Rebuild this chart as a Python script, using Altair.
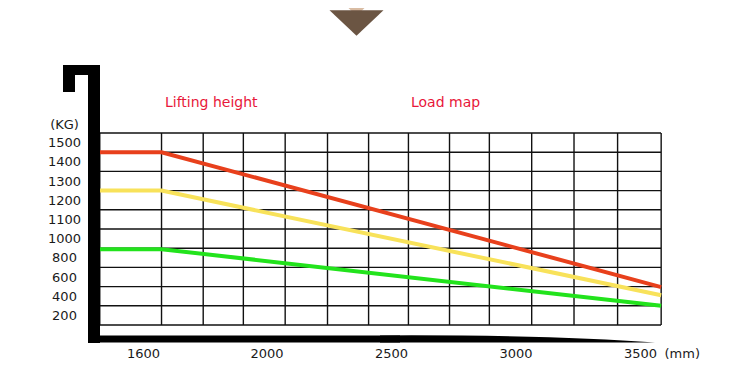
import altair as alt
import pandas as pd

# ---------------- data ----------------
lift_mm = [1460, 1660, 3585]                # start, knee, end of each curve (mm)
series_names = ["Red", "Yellow", "Green"]
load_red = [1450, 1450, 495]                # kg
load_yellow = [1250, 1250, 410]
load_green = [890, 890, 300]
series_colors = ["#e8401c", "#f8e25a", "#22e31c"]

x_tick_values = [1600, 2000, 2500, 3000, 3500]
y_tick_values = [200, 400, 600, 800, 1000, 1100, 1200, 1300, 1400, 1500]
x_grid_mm = [1460, 1660, 1795, 1925, 2075, 2245, 2410, 2570, 2735, 2895, 3065, 3235, 3410, 3585]
y_grid_kg = [100, 300, 500, 700, 900, 1050, 1150, 1250, 1350, 1450, 1550]

title_left = "Lifting height"
title_right = "Load map"
y_unit = "(KG)"
x_unit = "(mm)"

# ---------------- build tables ----------------
rows = []
for name, vals in zip(series_names, [load_red, load_yellow, load_green]):
    for mm, kg in zip(lift_mm, vals):
        rows.append({"series": name, "mm": mm, "kg": kg})
df = pd.DataFrame(rows)

W, H = 561, 192
FONT = "DejaVu Sans"
TXT = "#1a1a1a"

x_scale = alt.Scale(domain=[1600, 2000, 3500], range=[43, 166.5, 540], nice=False, zero=False)
y_scale = alt.Scale(domain=[100, 1000, 1550], range=[H, 105.6, 0], nice=False, zero=False)

x_axis = alt.Axis(
    values=x_tick_values, format="d", grid=False, domain=False, ticks=False, tickSize=0,
    labelPadding=28, labelBaseline="middle", labelFont=FONT, labelFontSize=13,
    labelColor=TXT, labelFlush=False, labelOverlap=False, labelBound=False,
    title=x_unit, titleX=564, titleY=28, titleAlign="left", titleBaseline="middle",
    titleFont=FONT, titleFontSize=13, titleFontWeight="normal", titleColor=TXT,
)
y_axis = alt.Axis(
    values=y_tick_values, format="d", grid=False, domain=False, ticks=False, tickSize=0,
    labelPadding=36, labelAlign="center", labelBaseline="middle", labelFont=FONT,
    labelFontSize=13, labelColor=TXT, labelOverlap=False, labelBound=False,
    title=y_unit, titleAngle=0, titleX=-36, titleY=-9, titleAlign="center",
    titleBaseline="middle", titleFont=FONT, titleFontSize=13, titleFontWeight="normal",
    titleColor=TXT,
)

vgrid = alt.Chart(pd.DataFrame({"gx": x_grid_mm})).mark_rule(color="#111111", strokeWidth=1.4).encode(
    x=alt.X("gx:Q", scale=x_scale, axis=x_axis)
)
hgrid = alt.Chart(pd.DataFrame({"gy": y_grid_kg})).mark_rule(color="#111111", strokeWidth=1.4).encode(
    y=alt.Y("gy:Q", scale=y_scale, axis=y_axis)
)

lines = alt.Chart(df).mark_line(strokeWidth=4).encode(
    x=alt.X("mm:Q", scale=x_scale, axis=x_axis),
    y=alt.Y("kg:Q", scale=y_scale, axis=y_axis),
    color=alt.Color("series:N", scale=alt.Scale(domain=series_names, range=series_colors), legend=None),
)

one = alt.Data(values=[{"k": 1}])


def block(x1, x2, y1, y2, color="#000000"):
    return alt.Chart(one).mark_rect(color=color).encode(
        x=alt.value(x1), x2=alt.value(x2), y=alt.value(y1), y2=alt.value(y2)
    )


def shape(path, cx, cy, size, color):
    return alt.Chart(one).mark_point(
        shape=path, filled=True, size=size, color=color, opacity=1, strokeWidth=0
    ).encode(x=alt.value(cx), y=alt.value(cy))


def label(text, x, y, color, size=14):
    return alt.Chart(one).mark_text(
        text=text, align="left", baseline="middle", font=FONT, fontSize=size, color=color
    ).encode(x=alt.value(x), y=alt.value(y))


decor = [
    block(-12, 0, -68, 210),          # vertical thick bar
    block(-37, 0, -68, -58),          # hook top
    block(-37, -25, -68, -41),        # hook leg
    block(-12, 300, 202.5, 209.5),    # bottom thick bar
    shape("M -1 -0.026 Q 0.25 -0.032 1 0.026 L -1 0.026 Z", 417.5, 206, 275 * 275, "#000000"),
    shape("M -1 -0.5 L 1 -0.5 L 0 0.5 Z", 256.5, -123, 24 * 24, "#d9bca3"),
    shape("M -1 -0.47 L 1 -0.47 L 0 0.47 Z", 256.5, -110, 54 * 54, "#6b5543"),
    label(title_left, 65, -30, "#e8173a"),
    label(title_right, 311, -30, "#e8173a"),
]

chart = alt.layer(vgrid, hgrid, lines, *decor).properties(
    width=W,
    height=H,
    autosize=alt.AutoSizeParams(type="none"),
    padding={"left": 92, "top": 125, "right": 80, "bottom": 39},
).configure_view(stroke=None)

chart.save("out.html", embed_options={"renderer": "svg", "actions": False})
